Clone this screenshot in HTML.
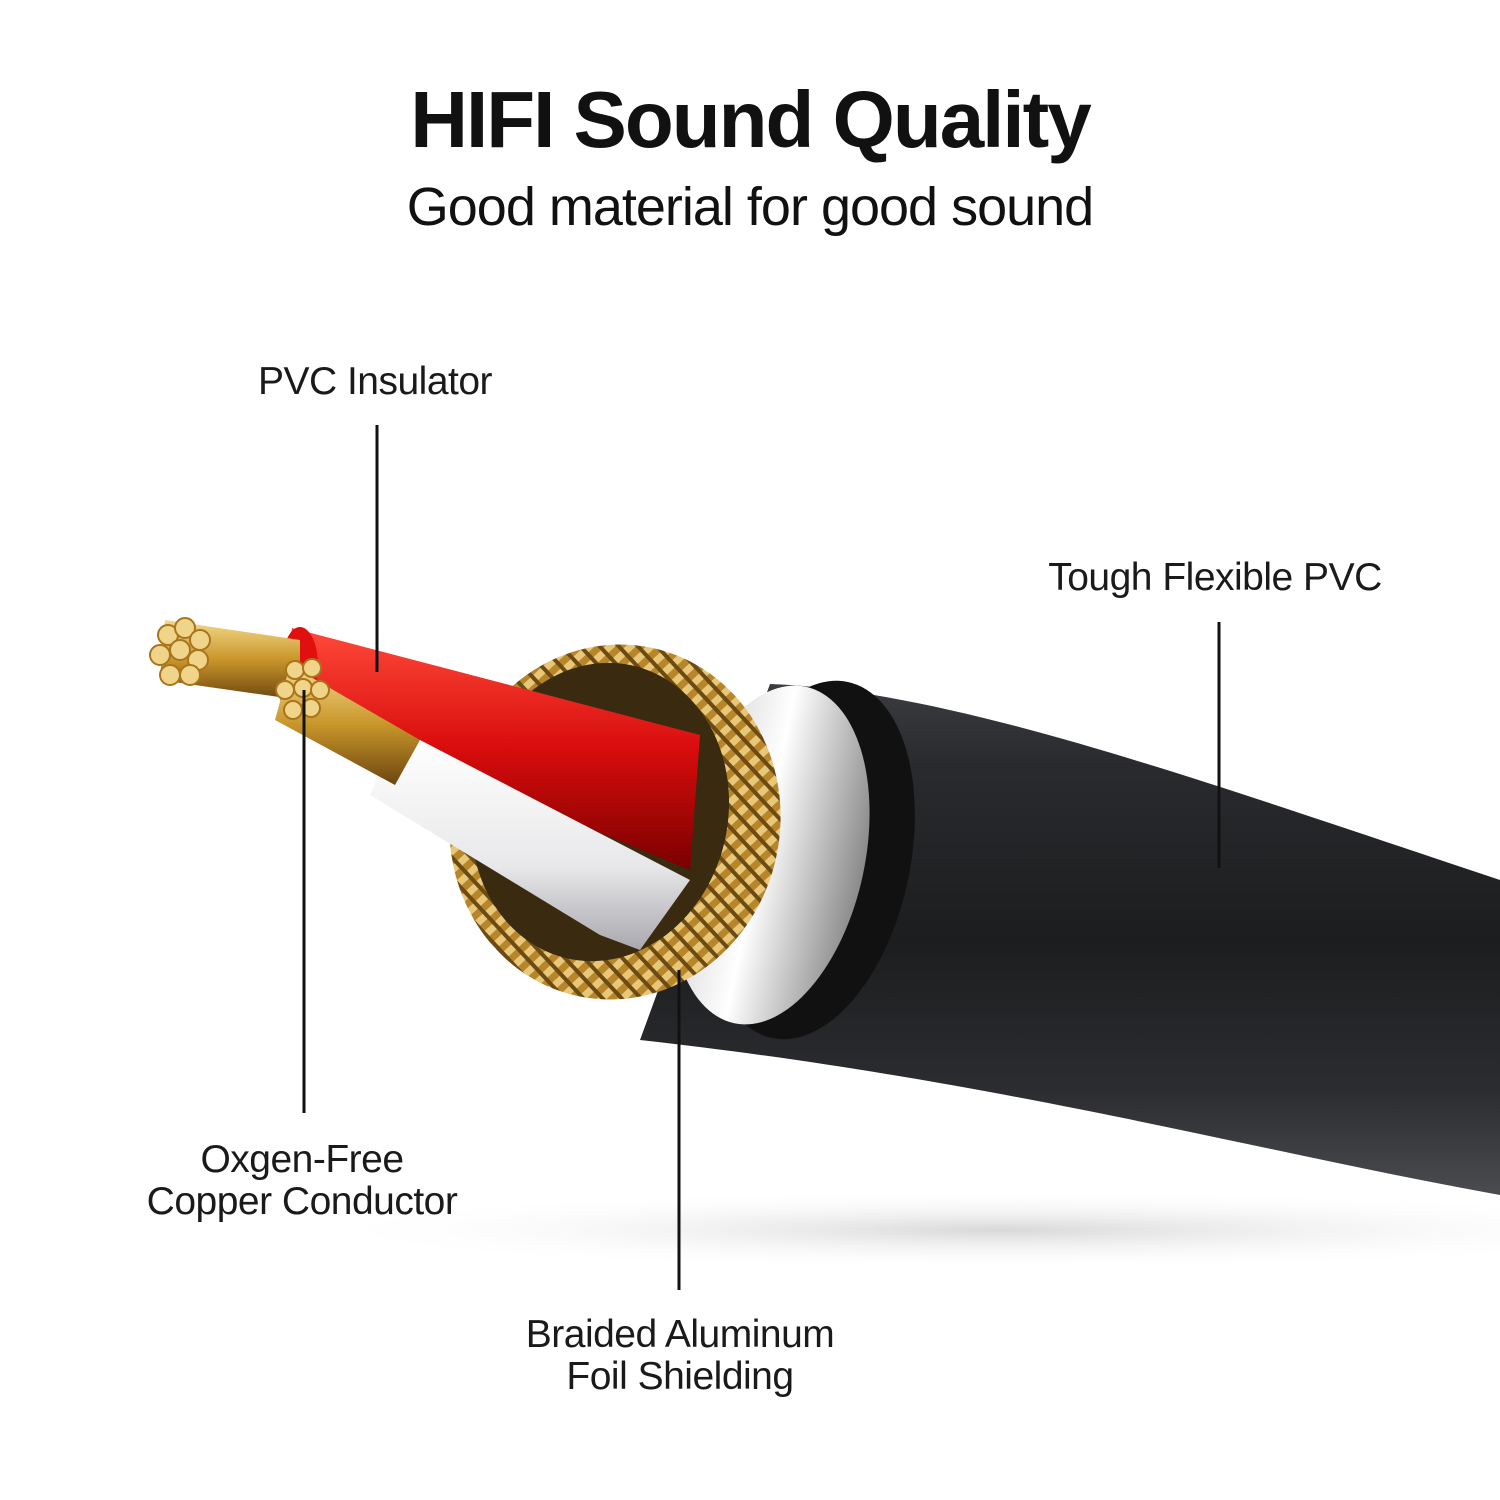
<!DOCTYPE html>
<html><head><meta charset="utf-8"><style>
html,body{margin:0;padding:0;background:#fff;}
.wrap{position:relative;width:1500px;height:1500px;overflow:hidden;font-family:"Liberation Sans",sans-serif;color:#111;}
.t{position:absolute;left:0;width:1500px;text-align:center;}
.lbl{position:absolute;font-size:39px;color:#1a1a1a;text-align:center;line-height:42px;letter-spacing:-0.5px;}
</style></head><body><div class="wrap">
<svg width="1500" height="1500" style="position:absolute;left:0;top:0">
<defs>
<linearGradient id="jk" x1="0" y1="0" x2="0" y2="1">
<stop offset="0" stop-color="#3a3c40"/><stop offset="0.15" stop-color="#2a2b2e"/><stop offset="0.5" stop-color="#1c1d1f"/><stop offset="0.8" stop-color="#2c2d30"/><stop offset="1" stop-color="#4a4c50"/></linearGradient>
<radialGradient id="sh" cx="0.5" cy="0.5" r="0.5"><stop offset="0" stop-color="#d8d8d8"/><stop offset="1" stop-color="#fff" stop-opacity="0"/></radialGradient>
<linearGradient id="gold" x1="0" y1="0" x2="0" y2="1"><stop offset="0" stop-color="#f4d98a"/><stop offset="0.5" stop-color="#c8952a"/><stop offset="1" stop-color="#6b4510"/></linearGradient>
<linearGradient id="red" x1="0" y1="0" x2="0" y2="1"><stop offset="0" stop-color="#ff4a3a"/><stop offset="0.5" stop-color="#d80c0c"/><stop offset="1" stop-color="#7a0000"/></linearGradient>
<linearGradient id="wh" x1="0" y1="0" x2="0" y2="1"><stop offset="0" stop-color="#ffffff"/><stop offset="0.6" stop-color="#e8e8ea"/><stop offset="1" stop-color="#a8a8ae"/></linearGradient>
<linearGradient id="sil" x1="0" y1="0" x2="1" y2="0"><stop offset="0" stop-color="#d0d0d0"/><stop offset="0.45" stop-color="#ffffff"/><stop offset="1" stop-color="#8a8a8a"/></linearGradient>
<pattern id="br" width="14" height="14" patternUnits="userSpaceOnUse" patternTransform="rotate(35)"><rect width="14" height="14" fill="#b8862a"/><rect width="7" height="14" fill="#e8c878"/><rect width="14" height="4" fill="#6b4a14"/></pattern>
</defs>
<ellipse cx="1000" cy="1230" rx="700" ry="40" fill="url(#sh)"/>
<path d="M770 684 C 950 690, 1200 780, 1500 880 L1500 1195 C 1250 1150, 1000 1080, 640 1040 Z" fill="url(#jk)"/>
<ellipse cx="810" cy="860" rx="100" ry="182" transform="rotate(12 810 860)" fill="#111"/>
<ellipse cx="770" cy="855" rx="95" ry="172" transform="rotate(12 770 855)" fill="url(#sil)"/>
<ellipse cx="615" cy="822" rx="165" ry="178" transform="rotate(12 615 822)" fill="url(#br)"/>
<ellipse cx="600" cy="812" rx="128" ry="150" transform="rotate(12 600 812)" fill="#3a2a10"/>
<path d="M292 628 L700 735 L690 870 L280 700 Z" fill="url(#red)"/>
<ellipse cx="300" cy="665" rx="18" ry="38" fill="#e01010"/>
<path d="M385 760 L420 740 L690 880 L640 950 L600 935 L370 795 Z" fill="url(#wh)"/>
<path d="M165 620 L300 640 L300 700 L160 680 Z" fill="url(#gold)"/>
<path d="M290 665 L420 740 L395 785 L275 720 Z" fill="url(#gold)"/>
<g fill="#f0d48a" stroke="#a8751c" stroke-width="2">
<circle cx="168" cy="635" r="10"/><circle cx="185" cy="628" r="10"/><circle cx="200" cy="640" r="10"/><circle cx="160" cy="655" r="10"/><circle cx="180" cy="650" r="10"/><circle cx="198" cy="660" r="10"/><circle cx="170" cy="675" r="10"/><circle cx="190" cy="675" r="10"/>
<circle cx="295" cy="670" r="9"/><circle cx="312" cy="668" r="9"/><circle cx="285" cy="690" r="9"/><circle cx="303" cy="688" r="9"/><circle cx="320" cy="690" r="9"/><circle cx="293" cy="710" r="9"/><circle cx="311" cy="708" r="9"/>
</g>
<g stroke="#111" stroke-width="3">
<line x1="377" y1="425" x2="377" y2="672"/>
<line x1="1219" y1="622" x2="1219" y2="868"/>
<line x1="304" y1="690" x2="304" y2="1113"/>
<line x1="679" y1="970" x2="679" y2="1290"/>
</g>
</svg>
<div class="t" style="top:74px;font-size:80px;font-weight:bold;letter-spacing:-2px;">HIFI Sound Quality</div>
<div class="t" style="top:176px;font-size:54px;letter-spacing:-1px;">Good material for good sound</div>
<div class="lbl" style="left:200px;width:350px;top:361px;">PVC Insulator</div>
<div class="lbl" style="left:1000px;width:430px;top:557px;">Tough Flexible PVC</div>
<div class="lbl" style="left:90px;width:424px;top:1139px;">Oxgen-Free<br>Copper Conductor</div>
<div class="lbl" style="left:450px;width:460px;top:1314px;">Braided Aluminum<br>Foil Shielding</div>
</div></body></html>
